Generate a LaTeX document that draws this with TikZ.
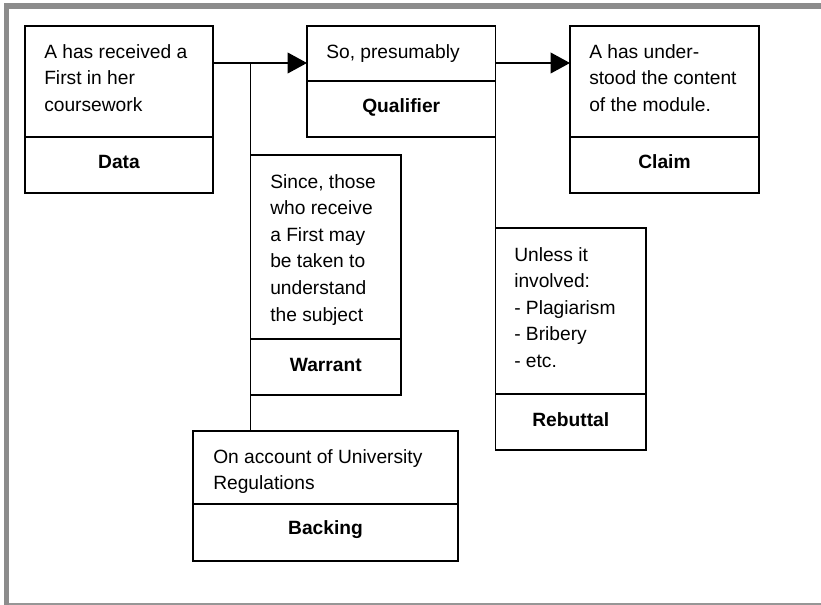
\documentclass[tikz,border=0pt]{standalone}
\usepackage{fontspec}
\setmainfont{Liberation Sans}
\usetikzlibrary{arrows.meta,fit}
\newcommand\tstrut{\rule{0pt}{10.6pt}}
\tikzset{
  box/.style={draw=black, line width=1.4pt, inner sep=0pt, outer sep=0pt},
  boxline/.style={draw=black, line width=1.4pt},
  conn/.style={draw=black, line width=1.2pt},
  arr/.style={conn, -{Triangle[length=14.5pt,width=15.5pt]}},
  txt/.style={anchor=north west, inner sep=0pt, align=left, font=\fontsize{14.4}{19.9}\selectfont},
  lbl/.style={anchor=base, inner sep=0pt, font=\fontsize{14.4}{19.9}\selectfont\bfseries},
}
\begin{document}
\begin{tikzpicture}[x=0.75pt,y=-0.75pt]
\useasboundingbox (0,0) rectangle (821,605);
% frame
\fill[fill={rgb,255:red,140;green,140;blue,140}] (3.5,3.5) rectangle (821,9.3);
\fill[fill={rgb,255:red,140;green,140;blue,140}] (3.5,3.5) rectangle (9.3,605);
\draw[draw={rgb,255:red,150;green,150;blue,150}, line width=1.3pt] (9.3,604) -- (821,604);

% boxes
\node[box, fit={(25,26) (213,193)}] (data) {};
\node[box, fit={(307,26) (495.5,137)}] (qual) {};
\node[box, fit={(570,26) (759,193)}] (claim) {};
\node[box, fit={(250.5,155) (401,395)}] (war) {};
\node[box, fit={(495.5,228) (646,450)}] (reb) {};
\node[box, fit={(193,431) (458,561)}] (back) {};

% dividers
\draw[boxline] (data.west |- 0,137) -- (data.east |- 0,137);
\draw[boxline] (qual.west |- 0,81) -- (qual.east |- 0,81);
\draw[boxline] (claim.west |- 0,137) -- (claim.east |- 0,137);
\draw[boxline] (war.west |- 0,339) -- (war.east |- 0,339);
\draw[boxline] (reb.west |- 0,394) -- (reb.east |- 0,394);
\draw[boxline] (back.west |- 0,504) -- (back.east |- 0,504);

% texts
\node[txt] (tdata) at (44,44) {\tstrut A has received a\\First in her\\coursework};
\node[txt] (tqual) at (326,44) {\tstrut So, presumably};
\node[txt] (tclaim) at (589,44) {\tstrut A has under-\\stood the content\\of the module.};
\node[txt] (twar) at (270,174) {\tstrut Since, those\\who receive\\a First may\\be taken to\\understand\\the subject};
\node[txt] (treb) at (514,247) {\tstrut Unless it\\involved:\\- Plagiarism\\- Bribery\\- etc.};
\node[txt] (tback) at (213,449) {\tstrut On account of University\\Regulations};

% labels
\node[lbl] (ldata) at (119,168.5) {Data};
\node[lbl] (lqual) at (401.25,113) {Qualifier};
\node[lbl] (lclaim) at (664.5,168.5) {Claim};
\node[lbl] (lwar) at (325.75,372) {Warrant};
\node[lbl] (lreb) at (570.75,427) {Rebuttal};
\node[lbl] (lback) at (325.5,535) {Backing};

% connectors
\draw[arr] (data.east |- 0,63) -- (qual.west |- 0,63);
\draw[arr] (qual.east |- 0,63) -- (claim.west |- 0,63);
\draw[conn, line width=1pt] (war.west |- 0,63) -- (war.west |- back.north);
\draw[conn] (qual.south east) -- (reb.north west);
\end{tikzpicture}
\end{document}
